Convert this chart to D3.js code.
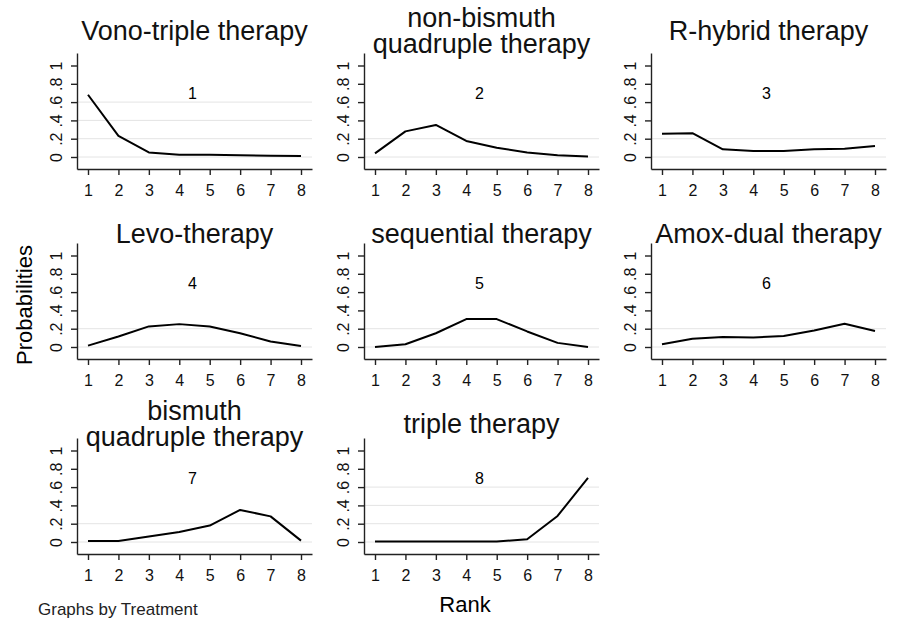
<!DOCTYPE html>
<html>
<head>
<meta charset="utf-8">
<script src="https://cdn.jsdelivr.net/npm/d3@7"></script>
<style>
  body { margin: 0; background: #fff; }
  svg { display: block; font-family: "Liberation Sans", Arial, sans-serif; }
</style>
</head>
<body>
<div id="chart"></div>
<script>
// treatments, in panel order
const titles = [
    ["Vono-triple therapy"],
    ["non-bismuth", "quadruple therapy"],
    ["R-hybrid therapy"],
    ["Levo-therapy"],
    ["sequential therapy"],
    ["Amox-dual therapy"],
    ["bismuth", "quadruple therapy"],
    ["triple therapy"]
]
const panelIds = ["1", "2", "3", "4", "5", "6", "7", "8"]
const ranks = [1, 2, 3, 4, 5, 6, 7, 8]
const yTicks = [0, 0.2, 0.4, 0.6, 0.8, 1]
const yTickLabels = ["0", ".2", ".4", ".6", ".8", "1"]

// probability of each rank, one array per treatment
const probVono = [0.68, 0.23, 0.05, 0.025, 0.025, 0.02, 0.015, 0.012]
const probNonBismuth = [0.04, 0.28, 0.35, 0.175, 0.10, 0.05, 0.02, 0.005]
const probRHybrid = [0.255, 0.26, 0.084, 0.065, 0.065, 0.085, 0.09, 0.12]
const probLevo = [0.015, 0.115, 0.225, 0.25, 0.225, 0.15, 0.06, 0.01]
const probSequential = [0.0, 0.03, 0.15, 0.305, 0.305, 0.17, 0.045, 0.0]
const probAmoxDual = [0.03, 0.09, 0.11, 0.105, 0.12, 0.18, 0.255, 0.175]
const probBismuth = [0.01, 0.01, 0.06, 0.11, 0.18, 0.35, 0.28, 0.015]
const probTriple = [0.005, 0.005, 0.005, 0.005, 0.005, 0.03, 0.285, 0.70]
const series = [probVono, probNonBismuth, probRHybrid, probLevo,
    probSequential, probAmoxDual, probBismuth, probTriple]

const WIDTH = 897, HEIGHT = 621
const colX = [77, 364, 651]          // y-axis position per column
const rowAxisY = [169, 359, 554]     // x-axis position per row
const rowTitleY = [40, 243, 433]     // title baseline per row
const plotW = 235, plotH = 116

const svg = d3.select("#chart").append("svg")
    .attr("width", WIDTH)
    .attr("height", HEIGHT)
    .style("background-color", "#fff")

// scales shared by all panels
const x = d3.scaleLinear()
    .domain([1 - 11 / 30.43, 8 + 11 / 30.43])
    .range([0, plotW])
const y = d3.scaleLinear()
    .domain([-12 / 91.5, (plotH - 12) / 91.5])
    .range([plotH, 0])
const line = d3.line()
    .x((d, i) => x(ranks[i]))
    .y(d => y(d))

for (let k = 0; k < series.length; k++) {
    let row = Math.floor(k / 3), col = k % 3
    let g = svg.append("g")
        .attr("transform", "translate(" + colX[col] + "," + (rowAxisY[row] - plotH) + ")")
    let vals = series[k]
    let maxV = d3.max(vals)

    // faint gridlines
    g.selectAll("line.grid")
        .data(yTicks.filter(t => t <= maxV))
        .enter().append("line")
        .attr("class", "grid")
        .attr("x1", 0).attr("x2", plotW)
        .attr("y1", d => y(d)).attr("y2", d => y(d))
        .style("stroke", "#e4e4e4")
        .style("stroke-width", 1)

    // x axis
    let xa = g.append("g")
        .attr("transform", "translate(0," + plotH + ")")
        .call(d3.axisBottom(x).tickValues(ranks).tickSize(6).tickSizeOuter(0).tickPadding(10))
    xa.selectAll("text").style("font-size", "16px").style("fill", "#111")

    // y axis with rotated labels
    let ya = g.append("g")
        .call(d3.axisLeft(y).tickValues(yTicks).tickSize(6).tickSizeOuter(0)
            .tickFormat((d, i) => yTickLabels[i]))
    ya.selectAll("text")
        .attr("x", 0).attr("dy", 0)
        .attr("text-anchor", "middle")
        .attr("transform", "translate(-15,0) rotate(-90)")
        .style("font-size", "16px").style("fill", "#111")

    g.selectAll(".domain, .tick line").style("stroke", "#222").style("stroke-width", 1.4)

    // probability curve
    g.append("path")
        .datum(vals)
        .attr("d", line)
        .attr("fill", "none")
        .attr("stroke", "#000")
        .attr("stroke-width", 2)
        .attr("stroke-linejoin", "round")

    // panel number
    g.append("text")
        .attr("x", plotW / 2 - 2)
        .attr("y", y(0) - 58)
        .attr("text-anchor", "middle")
        .style("font-size", "16px")
        .text(panelIds[k])

    // title, one or two lines
    let t = titles[k]
    let baseY = rowTitleY[row] - (rowAxisY[row] - plotH)
    t.forEach((s, i) => {
        g.append("text")
            .attr("x", plotW / 2)
            .attr("y", baseY + (i - (t.length - 1) / 2) * 26.5)
            .attr("text-anchor", "middle")
            .style("font-size", "27px")
            .style("fill", "#111")
            .text(s)
    })
}

// axis titles and note
svg.append("text")
    .attr("transform", "translate(32,305) rotate(-90)")
    .attr("text-anchor", "middle")
    .style("font-size", "22px")
    .text("Probabilities")

svg.append("text")
    .attr("x", 465).attr("y", 612)
    .attr("text-anchor", "middle")
    .style("font-size", "22px")
    .text("Rank")

svg.append("text")
    .attr("x", 38).attr("y", 615)
    .style("font-size", "17px")
    .style("fill", "#222")
    .text("Graphs by Treatment")
</script>
</body>
</html>
